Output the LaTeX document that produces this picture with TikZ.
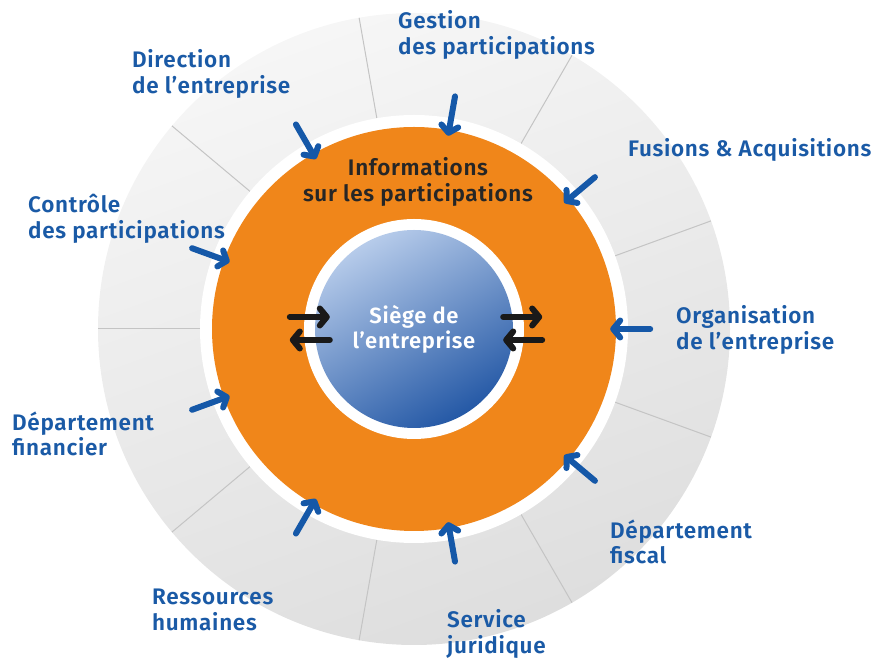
\documentclass[tikz,border=0pt]{standalone}
\usepackage{fontspec}
\setmainfont{Fira Sans}[BoldFont={Fira Sans SemiBold}, LetterSpace=3]
\usetikzlibrary{arrows.meta}

\definecolor{ringorange}{HTML}{F0861A}
\definecolor{labelblue}{HTML}{1A5AA6}
\definecolor{arrowblue}{HTML}{1558A8}
\definecolor{spokegray}{HTML}{C4C4C4}
\definecolor{balllight}{HTML}{B6CBEA}
\definecolor{balldark}{HTML}{2559A6}

\tikzset{
  unitlabel/.style={text=labelblue, font=\fontsize{22.5}{25.5}\selectfont\bfseries,
    align=left, anchor=west, inner sep=0pt},
  inarrow/.style={arrowblue, line width=6pt, line cap=round, shorten >=-6pt,
    -{Straight Barb[length=7pt,width=17pt,line cap=round,line join=round]}},
  hqarrow/.style={black!90, line width=6pt, line cap=round,
    -{Straight Barb[length=7pt,width=17pt,line cap=round,line join=round]}}
}

\begin{document}
\begin{tikzpicture}[x=1pt,y=1pt]
  \useasboundingbox (0,0) rectangle (876,658);
  \coordinate (c) at (414,329);

  % outer ring of departments
  \shade[top color=gray!7, bottom color=gray!26, shading angle=20] (c) circle[radius=316];
  \foreach \a in {20,60,...,340}
    \draw[spokegray, line width=1pt, shift={(c)}] (\a:214) -- (\a:316);
  \fill[white] (c) circle[radius=214];

  % information ring and head office
  \node[circle, fill=ringorange, minimum size=404pt, inner sep=0pt] (info) at (c) {};
  \fill[white] (c) circle[radius=110];
  \node[circle, minimum size=198pt, inner sep=0pt, top color=balllight, bottom color=balldark,
    shading angle=30, text=white, align=center, font=\fontsize{22}{25}\selectfont\bfseries]
    (hq) at (c) {Siège de\\l’entreprise};
  \node[text=black!85, align=center, font=\fontsize{22.5}{25.5}\selectfont\bfseries]
    (infotext) at (418,476) {Informations\\sur les participations};

  \foreach \a in {0,40,...,320}
    \draw[inarrow] (info.\a) ++(\a:34) -- (info.\a);

  \draw[hqarrow] ([xshift=-25pt,yshift=12pt]hq.west) -- ([xshift=15pt,yshift=12pt]hq.west);
  \draw[hqarrow] ([xshift=15pt,yshift=-11pt]hq.west) -- ([xshift=-25pt,yshift=-11pt]hq.west);
  \draw[hqarrow] ([xshift=-10pt,yshift=12pt]hq.east) -- ([xshift=29pt,yshift=12pt]hq.east);
  \draw[hqarrow] ([xshift=29pt,yshift=-11pt]hq.east) -- ([xshift=-10pt,yshift=-11pt]hq.east);

  % department labels
  \node[unitlabel] (gestion) at (398,623) {Gestion\\des participations};
  \node[unitlabel] (direction) at (132,584) {Direction\\de l’entreprise};
  \node[unitlabel] (fusions) at (628,508) {Fusions \& Acquisitions};
  \node[unitlabel] (controle) at (28,439) {Contrôle\\des participations};
  \node[unitlabel] (organisation) at (676,328) {Organisation\\de l’entreprise};
  \node[unitlabel] (financier) at (12,224) {Département\\financier};
  \node[unitlabel] (fiscal) at (610,116) {Département\\fiscal};
  \node[unitlabel] (rh) at (152,48) {Ressources\\humaines};
  \node[unitlabel] (juridique) at (447,24) {Service\\juridique};
\end{tikzpicture}
\end{document}
